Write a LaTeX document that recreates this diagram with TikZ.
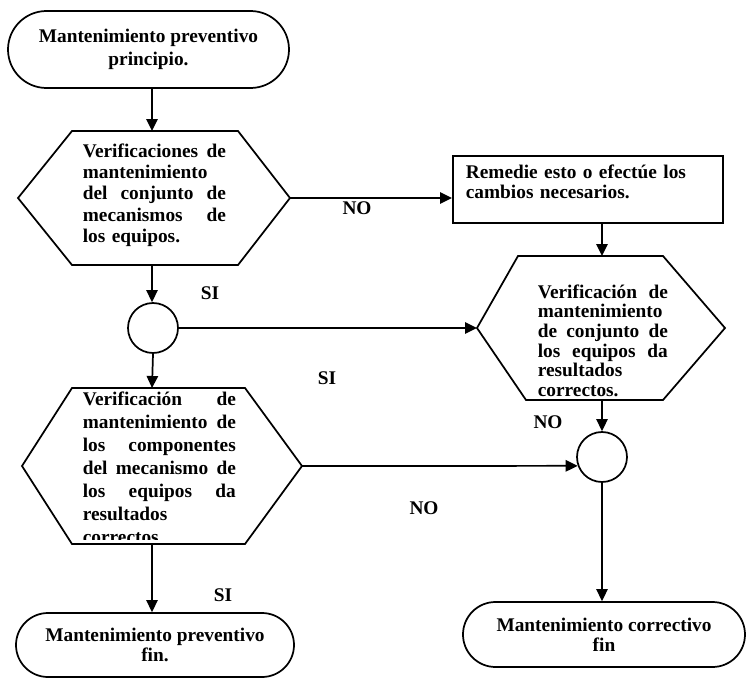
\documentclass[tikz,border=0pt]{standalone}
\usepackage{fontspec}
\setmainfont{Liberation Serif}
\usetikzlibrary{arrows.meta,shapes.misc}

% a justified line of the given width; words are spread with \hfill
\newcommand{\jl}[2]{\leavevmode\hbox to #1{#2}}

\begin{document}
\begin{tikzpicture}[x=0.75pt,y=-0.75pt,line width=1.3pt,
  arr/.style={-{Triangle[length=9pt,width=8.5pt]}},
  txt/.style={font=\bfseries\fontsize{14.5}{#1}\selectfont},
  term/.style={draw,rounded rectangle,inner sep=0pt,align=center},
  hext/.style={inner sep=0pt,anchor=base west,align=left},
  lbl/.style={inner sep=0pt,font=\bfseries\fontsize{14.5}{17}\selectfont},
  junction/.style={draw,circle,minimum size=37.5pt,inner sep=0pt}]

\useasboundingbox (0,0) rectangle (747,678);
\fill[white] (0,0) rectangle (747,678);

% start terminal
\node[term,txt=17.2,minimum width=210.75pt,minimum height=57.75pt] (start) at (148.5,49.5)
  {Mantenimiento preventivo\\principio.};

% first decision hexagon
\coordinate (h1w) at (18,198);
\coordinate (h1e) at (290,198);
\coordinate (h1n) at (152,131);
\coordinate (h1s) at (152,265);
\draw (72,131) -- (238,131) -- (h1e) -- (238,265) -- (72,265) -- (h1w) -- cycle;
\node[hext,txt=16,text width=107.25pt] (t1) at (82,157)
  {\jl{107.25pt}{Verificaciones\hfill de}\\
   mantenimiento\\
   \jl{107.25pt}{del\hfill conjunto\hfill de}\\
   \jl{107.25pt}{mecanismos\hfill de}\\
   los equipos.};

% corrective action box
\node[draw,anchor=north west,minimum width=202.5pt,minimum height=50.25pt] (box) at (452,155) {};
\node[hext,txt=15,text width=170pt] (tbox) at (465,178)
  {Remedie esto o efectúe los\\cambios necesarios.};

% second decision hexagon
\coordinate (h2w) at (477,328);
\coordinate (h2e) at (725,328);
\coordinate (h2n) at (602,256);
\coordinate (h2s) at (602,400);
\draw (518,256) -- (663,256) -- (h2e) -- (663,400) -- (526,400) -- (h2w) -- cycle;
\node[hext,txt=14.8,text width=97.5pt] (t2) at (537,298)
  {\jl{97.5pt}{Verificación\hfill de}\\
   mantenimiento\\
   \jl{97.5pt}{de\hfill conjunto\hfill de}\\
   \jl{97.5pt}{los\hfill equipos\hfill da}\\
   resultados\\
   correctos.};

% junctions
\node[junction] (c1) at (153,328) {};
\node[junction] (c2) at (602,457) {};

% third decision hexagon
\coordinate (h3w) at (22,466);
\coordinate (h3e) at (302,466);
\coordinate (h3n) at (152,388);
\coordinate (h3s) at (152,544);
\draw (72,388) -- (245,388) -- (h3e) -- (245,544) -- (72,544) -- (h3w) -- cycle;
\begin{scope}
  \clip (60,390) rectangle (260,539);
  \node[hext,txt=17.25,text width=114.75pt] (t3) at (82,405)
    {\jl{114.75pt}{Verificación\hfill de}\\
     \jl{114.75pt}{mantenimiento\hfill de}\\
     \jl{114.75pt}{los\hfill componentes}\\
     \jl{114.75pt}{del\hfill mecanismo\hfill de}\\
     \jl{114.75pt}{los\hfill equipos\hfill da}\\
     resultados\\
     correctos};
\end{scope}

% end terminals
\node[term,txt=15,minimum width=208.5pt,minimum height=48pt] (end1) at (155,645)
  {Mantenimiento preventivo\\fin.};
\node[term,txt=15,minimum width=211.5pt,minimum height=48.75pt] (end2) at (604,634.5)
  {Mantenimiento correctivo\\fin};

% connectors
\draw[arr] (h1n |- start.south) -- (h1n);
\draw[arr] (h1s) -- (h1s |- c1.north);
\draw[arr] (h1e) -- (h1e -| box.west);
\draw[arr] (h2n |- box.south) -- (h2n);
\draw[arr] (c1.east) -- (h2w);
\draw[arr] (c1.south) -- (h3n);
\draw[arr] (h2s) -- (c2.north);
\draw[arr] (h3e) -- (c2.200);
\draw[arr] (c2.south) -- (c2.south |- end2.north);
\draw[arr] (h3s) -- (h3s |- end1.north);

% branch labels
\node[lbl] (no1) at (357,208) {NO};
\node[lbl] (si1) at (210,293) {SI};
\node[lbl] (si2) at (327,378) {SI};
\node[lbl] (no2) at (548,422) {NO};
\node[lbl] (no3) at (424,508) {NO};
\node[lbl] (si3) at (223,595) {SI};
\end{tikzpicture}
\end{document}
